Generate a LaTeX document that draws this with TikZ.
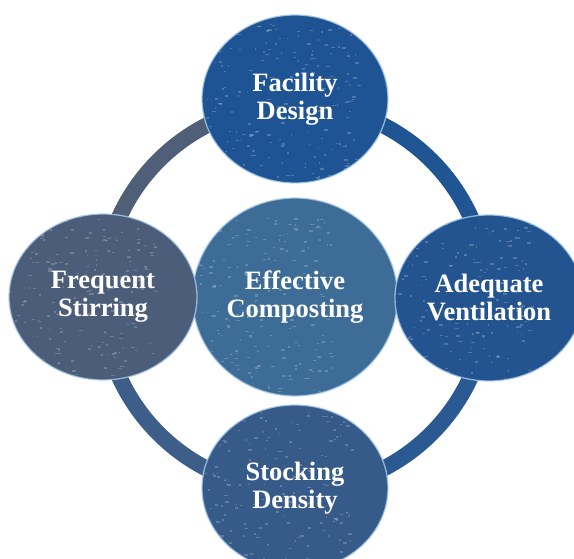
\documentclass[tikz,border=0pt]{standalone}
\usepackage{fontspec}
\setmainfont{Liberation Serif}
\usetikzlibrary{shapes.geometric}
\definecolor{cfac}{HTML}{1E5493}
\definecolor{cstir}{HTML}{4B5D78}
\definecolor{ccomp}{HTML}{3D6C96}
\definecolor{cvent}{HTML}{23548F}
\definecolor{cstock}{HTML}{375B89}
\definecolor{ringgray}{HTML}{4F5F78}
\definecolor{ringgb}{HTML}{3D5E88}
\definecolor{ringblue}{HTML}{1F5593}
\definecolor{ringblue2}{HTML}{2A5A91}
\definecolor{rimc}{HTML}{A9CCEB}
\begin{document}
\begin{tikzpicture}[x=1pt,y=-1pt,
  specks/.style={path picture={
    \pgfmathsetseed{#1}
    \foreach \k in {1,...,320}{
      \fill[white,opacity=0.2,shift={(path picture bounding box.center)}]
        (rand*105,rand*100) rectangle ++(0.8+rnd*3.5,0.9+rnd*1.2);
    }}},
  bubble/.style={ellipse, draw=rimc, draw opacity=0.8, line width=1.3pt,
    text=white, font=\bfseries\fontsize{26.5}{28}\selectfont, align=center, inner sep=0pt},
  ringarc/.style={line width=16pt}]
\useasboundingbox (0,0) rectangle (574,559);
% ring
\coordinate (rc) at (295,297);
\draw[ringarc, ringgray] (rc) ++(180:193) arc (180:270:193);
\draw[ringarc, ringgb] (rc) ++(90:193) arc (90:180:193);
\draw[ringarc, ringblue] (rc) ++(270:193) arc (270:360:193);
\draw[ringarc, ringblue2] (rc) ++(0:193) arc (0:90:193);
% bubbles
\node[bubble, fill=ccomp, specks=11, minimum width=205pt, minimum height=198pt] (comp) at (295,297) {Effective\\Composting};
\node[bubble, fill=cfac, specks=12, minimum width=186pt, minimum height=168pt] (fac) at (295,99) {Facility\\Design};
\node[bubble, fill=cstir, specks=13, minimum width=188pt, minimum height=166pt] (stir) at (103,297) {Frequent\\Stirring};
\node[bubble, fill=cvent, specks=14, minimum width=188pt, minimum height=166pt] (vent) at (489,298) {Adequate\\Ventilation};
\node[bubble, fill=cstock, specks=15, minimum width=186pt, minimum height=166pt] (stock) at (295,488) {Stocking\\Density};
\end{tikzpicture}
\end{document}
